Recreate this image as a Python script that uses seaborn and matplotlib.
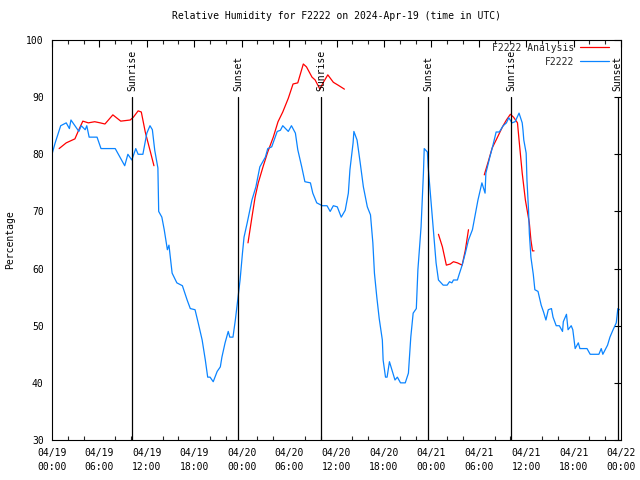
import numpy as np
import pandas as pd
import matplotlib
matplotlib.use("Agg")
import matplotlib.pyplot as plt
import matplotlib.dates as mdates
from matplotlib.lines import Line2D
import seaborn as sns

# hours after 2024-04-19 00:00 UTC
obs_hours = [0.0, 0.4, 1.1, 1.8, 2.2, 2.4, 2.9, 3.4, 3.7, 4.2, 4.4, 4.7, 5.7, 6.2, 8.0, 8.6, 9.2, 9.6,
             10.1, 10.6, 10.9, 11.5, 12.0, 12.4, 12.7, 13.0, 13.4, 13.5, 13.9, 14.2, 14.6, 14.8, 15.2,
             15.8, 16.5, 17.1, 17.5, 18.1, 18.5, 19.0, 19.4, 19.7, 20.0, 20.4, 20.9, 21.3, 21.5, 21.9,
             22.3, 22.5, 22.9, 23.2, 23.5, 23.8, 24.1, 24.3, 24.7, 25.3, 25.8, 26.3, 27.0, 27.3, 27.8,
             28.5, 28.9, 29.2, 29.9, 30.3, 30.8, 31.1, 31.6, 32.0, 32.7, 33.0, 33.5, 34.2, 34.8, 35.2,
             35.6, 36.1, 36.6, 37.1, 37.5, 37.7, 38.1, 38.2, 38.6, 39.0, 39.4, 39.9, 40.3, 40.6, 40.8,
             41.1, 41.4, 41.8, 41.9, 42.2, 42.4, 42.7, 43.0, 43.4, 43.7, 44.1, 44.7, 45.1, 45.4, 45.7,
             46.1, 46.3, 46.7, 47.0, 47.1, 47.5, 47.6, 48.0, 48.3, 48.6, 48.9, 49.1, 49.5, 50.0, 50.3,
             50.6, 50.8, 51.3, 51.5, 51.9, 52.3, 52.7, 53.2, 53.5, 53.9, 54.4, 54.8, 54.9, 55.4, 55.8,
             56.2, 56.6, 57.1, 57.5, 57.8, 58.2, 58.6, 59.1, 59.5, 59.6, 59.7, 60.0, 60.1, 60.3, 60.4,
             60.6, 60.9, 61.1, 61.5, 61.9, 62.2, 62.5, 62.8, 63.2, 63.4, 63.8, 64.2, 64.6, 64.7, 65.1,
             65.3, 65.7, 65.9, 66.2, 66.6, 66.8, 67.7, 68.1, 69.2, 69.5, 69.7, 70.3, 70.6, 71.0, 71.4,
             71.6, 71.8]
obs_rh = [80, 82, 85, 85.5, 84.5, 86, 85, 84, 85, 84.3, 85, 83, 83, 81, 81, 79.5, 78, 80,
          79, 81, 80, 80, 83.7, 85, 84.3, 80.7, 77.6, 70, 69, 66.8, 63.3, 64.1, 59.2,
          57.5, 57, 54.5, 53, 52.8, 50.5, 47.5, 44, 41, 41, 40.2, 42, 42.8, 44.5, 47,
          49, 48, 48, 51, 54.5, 58, 62.7, 65.5, 68, 72, 74.3, 77.8, 79.5, 81, 81.3,
          84, 84.2, 85, 84, 85, 83.7, 80.8, 77.8, 75.2, 75, 73.2, 71.5, 71, 71, 70,
          71, 70.8, 69, 70.2, 73.2, 77.3, 82, 84, 82.5, 78.5, 74.3, 70.8, 69.4, 64.5, 59.2,
          55, 51.3, 47.5, 44, 41, 41, 43.7, 42.3, 40.5, 41, 40, 40, 41.7, 48, 52.2,
          53, 59.8, 67.3, 76.7, 81, 80.4, 77.8, 71, 66, 61, 58, 57.7, 57.1, 57.1, 57.7,
          57.5, 58, 58, 58.9, 60.6, 62.7, 65, 66.8, 69, 72, 75, 73.2, 76.7, 79.5, 81.6,
          83.9, 83.9, 85, 85.5, 86.4, 85.5, 85.7, 87.2, 85.5, 84.2, 82.5, 80.2, 75.5, 70.2, 66.2,
          62, 59, 56.3, 56, 53.6, 52.4, 51, 52.8, 53, 51.5, 50, 50, 49, 50.7, 52,
          49.3, 50, 49.3, 46, 47, 46, 46, 45, 45, 46, 45, 46.6, 48, 49.3, 50.5,
          53, 52.8]

# analysis series, nan separates the segments
ana_hours = [0.9, 1.8, 2.9, 3.4, 3.9, 4.6, 5.4, 6.1, 6.7, 7.7, 8.7, 9.9, 10.3, 10.9, 11.3, 11.8, 12.4, 12.9,
             np.nan,
             24.8, 25.3, 25.7, 26.1, 26.7, 27.3, 28.0, 28.6, 29.2, 29.9, 30.5, 31.1, 31.8, 32.2, 32.9,
             33.3, 33.9, 34.3, 34.9, 35.6, 36.2, 37.0,
             np.nan,
             48.9, 49.4, 49.9, 50.4, 50.8, 51.3, 51.9, 52.3, 52.7,
             np.nan,
             54.7, 55.2, 55.7, 56.2, 57.0, 57.5, 58.0, 58.4, 58.9, 59.1, 59.5, 59.9, 60.1, 60.4, 60.6,
             60.8, 61.0]
ana_rh = [81, 82, 82.7, 84.3, 85.8, 85.5, 85.7, 85.5, 85.3, 86.9, 85.8, 86, 86.5, 87.6, 87.4, 83.9, 80.7, 78,
          np.nan,
          64.5, 69, 72.5, 75, 77.8, 80.4, 83, 85.7, 87.4, 89.8, 92.3, 92.5, 95.8, 95.3, 93.5,
          93, 91.4, 92.5, 93.9, 92.6, 92.1, 91.4,
          np.nan,
          66, 63.8, 60.6, 60.8, 61.2, 61, 60.6, 63.2, 66.8,
          np.nan,
          76.4, 78.7, 81.1, 82.5, 84.8, 86, 87, 86.5, 85.5, 82.5, 76.7, 72, 70.4, 68, 65,
          63.1, 63.1]

sun_hours = [10.13, 23.55, 34.1, 47.57, 58.08, 71.6]
sun_labels = ["Sunrise", "Sunset", "Sunrise", "Sunset", "Sunrise", "Sunset"]

start = pd.Timestamp("2024-04-19 00:00")

obs = pd.DataFrame({"time": start + pd.to_timedelta(obs_hours, unit="h"), "rh": obs_rh})
ana = pd.DataFrame({"hours": ana_hours, "rh": ana_rh})
ana["seg"] = ana["hours"].isna().cumsum()
ana = ana.dropna()
ana["time"] = start + pd.to_timedelta(ana["hours"], unit="h")

sns.set_theme(style="white")
plt.rcParams["font.family"] = ["DejaVu Sans Mono"]
plt.rcParams["font.size"] = 7

RED = "#ff0000"
BLUE = "#0a84ff"

fig = plt.figure(figsize=(6.4, 4.8), dpi=100)
ax = fig.add_axes([52 / 640, 40 / 480, 569 / 640, 400 / 480])

sns.lineplot(data=ana, x="time", y="rh", units="seg", estimator=None, color=RED, linewidth=0.9, ax=ax)
sns.lineplot(data=obs, x="time", y="rh", color=BLUE, linewidth=0.9, ax=ax)

for h, lab in zip(sun_hours, sun_labels):
    t = start + pd.Timedelta(hours=h)
    ax.plot([t, t], [30, 90], color="black", linewidth=0.9)
    ax.text(t, 91, lab, rotation=90, ha="center", va="bottom", fontsize=7, color="black")

ax.set_xlim(start, start + pd.Timedelta(hours=72))
ax.set_ylim(30, 100)
ax.set_yticks(range(30, 101, 10))
ax.xaxis.set_major_locator(mdates.HourLocator(byhour=range(0, 24, 6)))
ax.xaxis.set_minor_locator(mdates.HourLocator(byhour=range(0, 24, 2)))
ax.xaxis.set_major_formatter(mdates.DateFormatter("%m/%d\n%H:%M"))
ax.tick_params(axis="both", which="major", direction="in", length=5, width=0.8,
               top=True, right=True, labelsize=7, colors="black", pad=6)
ax.tick_params(axis="x", which="minor", direction="in", length=3, width=0.8, top=True, bottom=True)
for lbl in ax.get_xticklabels():
    lbl.set_linespacing(1.4)
for s in ax.spines.values():
    s.set_color("black")
    s.set_linewidth(0.8)

ax.set_xlabel("")
ax.set_ylabel("Percentage", fontsize=7, color="black", labelpad=8)
ax.set_title("Relative Humidity for F2222 on 2024-Apr-19 (time in UTC)", fontsize=7, color="black", pad=15)

handles = [Line2D([], [], color=RED, linewidth=0.9), Line2D([], [], color=BLUE, linewidth=0.9)]
ax.legend(handles, ["F2222 Analysis", "F2222"], loc="upper right", bbox_to_anchor=(0.99, 1.008),
          frameon=False, markerfirst=False, handlelength=3.0, labelspacing=0.4, fontsize=7,
          handletextpad=0.6, borderaxespad=0.2)

fig.savefig("out.png", dpi=100)
